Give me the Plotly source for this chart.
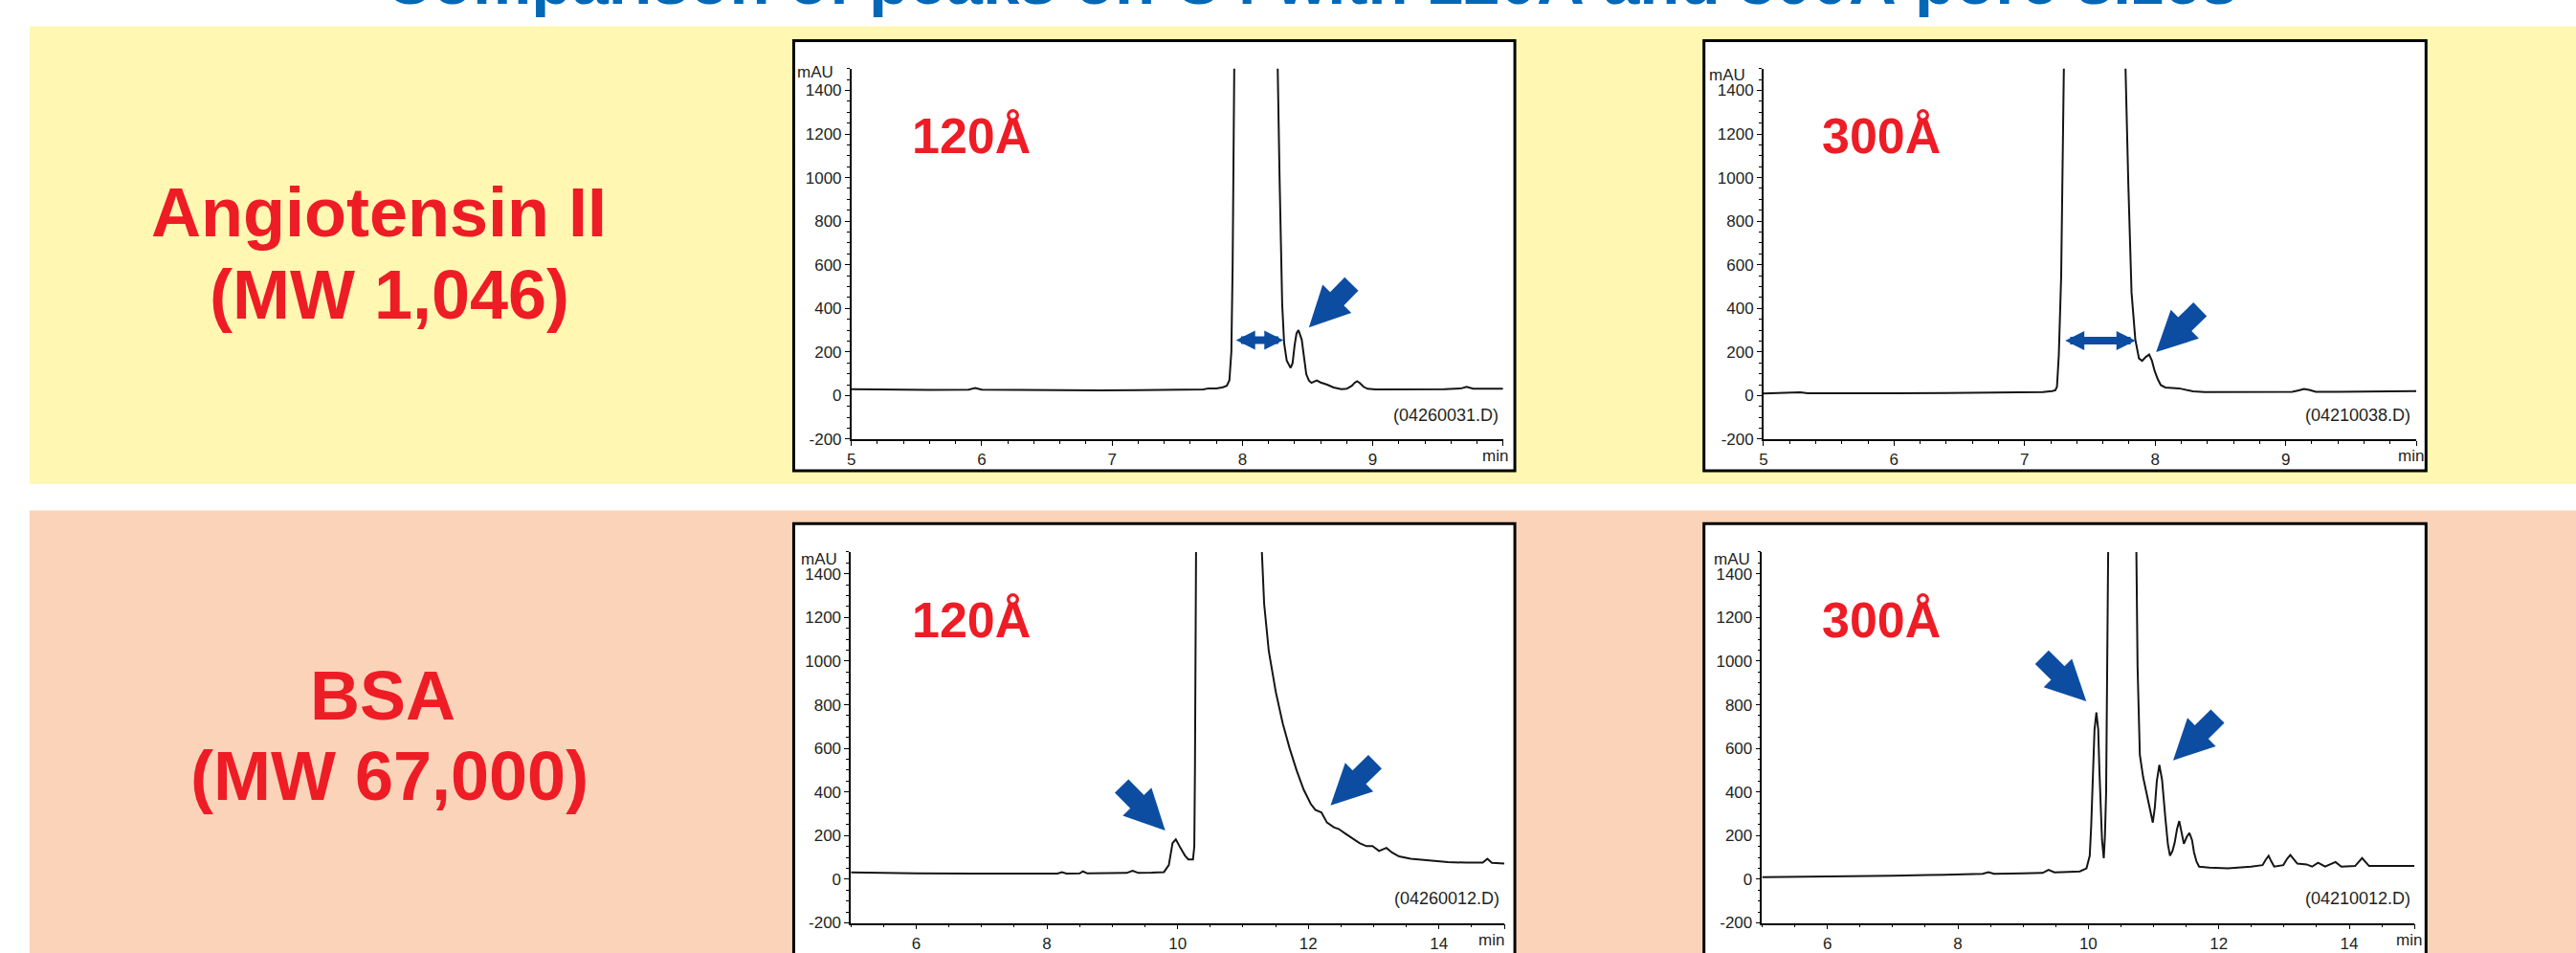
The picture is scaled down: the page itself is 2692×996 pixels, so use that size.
import plotly.graph_objects as go

W, H = 2692, 996

# ---------------- data ----------------
ang120_t = [5.00, 5.30, 5.33, 5.37, 5.60, 5.90, 5.95, 6.00, 6.30, 6.60, 6.90, 7.20, 7.50, 7.70, 7.74, 7.80,
            7.85, 7.88, 7.90, 7.915, 7.925, 7.94, 8.10, 8.265, 8.285, 8.305, 8.32, 8.34, 8.37, 8.385, 8.40,
            8.415, 8.43, 8.455, 8.474, 8.49, 8.51, 8.53, 8.57, 8.60, 8.65, 8.70, 8.76, 8.80, 8.84, 8.86,
            8.88, 8.90, 8.93, 8.96, 9.02, 9.30, 9.55, 9.68, 9.72, 9.77, 9.85, 10.00]
ang120_mau = [29, 27, 30, 27, 26, 27, 35, 27, 25, 24, 24, 25, 26, 28, 33, 33,
              38, 45, 70, 200, 600, 1700, 4000, 1700, 1000, 420, 240, 160, 127, 149, 228,
              285, 300, 257, 170, 98, 69, 58, 69, 60, 50, 37, 29, 31, 45, 58,
              66, 58, 40, 31, 28, 28, 29, 33, 40, 31, 30, 31]

ang300_t = [5.00, 5.20, 5.28, 5.34, 5.60, 6.00, 6.40, 6.80, 7.00, 7.14, 7.21, 7.235, 7.248, 7.262, 7.28,
            7.305, 7.54, 7.765, 7.794, 7.819, 7.848, 7.876, 7.90, 7.93, 7.954, 7.975, 7.996, 8.02, 8.043,
            8.078, 8.184, 8.24, 8.29, 8.38, 8.60, 8.90, 9.05, 9.10, 9.14, 9.18, 9.23, 9.40, 9.70, 10.00]
ang300_mau = [9, 11, 15, 11, 10, 11, 12, 13, 14, 16, 20, 24, 40, 185, 545,
              1700, 4000, 1700, 979, 473, 257, 170, 159, 178, 188, 160, 113, 75, 48,
              37, 33, 25, 19, 16, 16, 16, 17, 24, 30, 26, 17, 17, 19, 20]

bsa120_t = [5.00, 5.50, 6.00, 7.00, 8.00, 8.16, 8.23, 8.30, 8.50, 8.55, 8.62, 8.80, 9.10, 9.22, 9.31, 9.40,
            9.60, 9.79, 9.865, 9.90, 9.922, 9.972, 10.00, 10.043, 10.08, 10.114, 10.164, 10.235, 10.255,
            10.265, 10.285, 10.75, 11.26, 11.324, 11.395, 11.502, 11.609, 11.715, 11.822, 11.929, 12.036,
            12.107, 12.20, 12.285, 12.391, 12.463, 12.57, 12.676, 12.783, 12.89, 12.982, 13.082, 13.196,
            13.28, 13.388, 13.566, 13.85, 14.135, 14.42, 14.67, 14.74, 14.81, 15.00]
bsa120_mau = [32, 29, 27, 26, 26, 26, 32, 26, 27, 36, 27, 27, 28, 29, 39, 29,
              30, 33, 65, 130, 166, 183, 170, 144, 125, 108, 91, 91, 150,
              500, 1700, 4000, 1700, 1263, 1046, 859, 714, 599, 498, 411, 346,
              318, 307, 260, 238, 231, 209, 188, 166, 152, 152, 130, 144,
              123, 105, 94, 87, 79, 76, 76, 94, 75, 72]

bsa300_t = [5.00, 5.50, 6.10, 7.00, 7.53, 8.00, 8.38, 8.47, 8.555, 9.00, 9.30, 9.39, 9.48, 9.70, 9.87,
            9.972, 10.022, 10.045, 10.065, 10.095, 10.124, 10.152, 10.17, 10.188, 10.21, 10.237, 10.255,
            10.273, 10.294, 10.31, 10.52, 10.73, 10.755, 10.79, 10.84, 10.918, 10.989, 11.02, 11.05,
            11.089, 11.131, 11.181, 11.22, 11.252, 11.29, 11.323, 11.36, 11.394, 11.43, 11.465, 11.51,
            11.55, 11.59, 11.621, 11.66, 11.699, 11.855, 12.139, 12.494, 12.671, 12.72, 12.764, 12.80,
            12.849, 12.99, 13.05, 13.097, 13.15, 13.204, 13.346, 13.43, 13.522, 13.63, 13.79, 13.878,
            14.09, 14.197, 14.304, 14.60, 15.00]
bsa300_mau = [10, 11, 13, 16, 19, 22, 25, 33, 25, 27, 29, 43, 32, 34, 36,
              50, 108, 250, 397, 686, 765, 686, 500, 325, 180, 97, 200,
              397, 974, 1700, 4000, 1700, 974, 570, 469, 354, 260, 330, 450,
              524, 455, 281, 160, 108, 130, 166, 230, 267, 210, 163, 195,
              212, 180, 123, 80, 58, 53, 50, 58, 65, 90, 108, 85,
              58, 65, 95, 111, 90, 72, 68, 58, 76, 58, 79, 58,
              61, 97, 61, 61, 61]

# tick labels
top_x_tickvals = [5, 6, 7, 8, 9, 10]
top_x_ticktext = ["5", "6", "7", "8", "9", ""]
bot_x_tickvals = [6, 8, 10, 12, 14, 15]
bot_x_ticktext = ["6", "8", "10", "12", "14", ""]
y_tickvals = [-200, 0, 200, 400, 600, 800, 1000, 1200, 1400]
y_ticktext = ["-200", "0", "200", "400", "600", "800", "1000", "1200", "1400"]
x_unit = "min"
y_unit = "mAU"

title_text = "Comparison of peaks on C4 with 120Å and 300Å pore sizes"
row_labels = [["Angiotensin II", "(MW 1,046)"], ["BSA", "(MW 67,000)"]]
pore_labels = ["120Å", "300Å", "120Å", "300Å"]
file_ids = ["(04260031.D)", "(04210038.D)", "(04260012.D)", "(04210012.D)"]

# ---------------- helpers ----------------
def fx(p):
    return p / W


def fy(p):
    return 1 - p / H


FONT = "Liberation Sans, Arial, Helvetica, sans-serif"
RED = "#EE1C25"
BLUE_ARROW = "#0C4DA2"
TXT = "#231f20"
tick_font = dict(family=FONT, size=17, color=TXT)

fig = go.Figure()

series = [
    (ang120_t, ang120_mau, "x", "y"),
    (ang300_t, ang300_mau, "x2", "y2"),
    (bsa120_t, bsa120_mau, "x3", "y3"),
    (bsa300_t, bsa300_mau, "x4", "y4"),
]
for t, m, xa, ya in series:
    fig.add_trace(go.Scatter(x=t, y=m, mode="lines", line=dict(color="#151515", width=2),
                             xaxis=xa, yaxis=ya, hoverinfo="skip", showlegend=False))


def xaxis(domain, anchor, rng, tv, tt, mdt):
    return dict(domain=domain, anchor=anchor, range=rng, tickmode="array", tickvals=tv, ticktext=tt,
                ticks="outside", ticklen=5, tickwidth=1.4, tickcolor="black",
                minor=dict(tickmode="linear", tick0=rng[0], dtick=mdt, ticks="outside", ticklen=3,
                           tickwidth=1.1, tickcolor="black", showgrid=False),
                showline=True, linecolor="black", linewidth=1.6, showgrid=False, zeroline=False,
                tickfont=tick_font, fixedrange=True)


def yaxis(domain, anchor):
    return dict(domain=domain, anchor=anchor, range=[-200, 1500], tickmode="array",
                tickvals=y_tickvals, ticktext=y_ticktext,
                ticks="outside", ticklen=5, tickwidth=1.4, tickcolor="black",
                minor=dict(tickmode="linear", tick0=-200, dtick=50, ticks="outside", ticklen=3,
                           tickwidth=1.1, tickcolor="black", showgrid=False),
                showline=True, linecolor="black", linewidth=1.6, showgrid=False, zeroline=False,
                tickfont=tick_font, fixedrange=True)


top_y = [fy(465.5), fy(72.7)]
bot_y = [fy(978.3), fy(585.2)]
axes_geom = {
    "x": (xaxis([fx(886.4), fx(1568.7)], "y", [5, 10], top_x_tickvals, top_x_ticktext, 0.2), yaxis(top_y, "x")),
    "x2": (xaxis([fx(1841.3), fx(2524.8)], "y2", [5, 10], top_x_tickvals, top_x_ticktext, 0.2), yaxis(top_y, "x2")),
    "x3": (xaxis([fx(885.9), fx(1570.0)], "y3", [5, 15], bot_x_tickvals, bot_x_ticktext, 0.5), yaxis(bot_y, "x3")),
    "x4": (xaxis([fx(1839.9), fx(2522.9)], "y4", [5, 15], bot_x_tickvals, bot_x_ticktext, 0.5), yaxis(bot_y, "x4")),
}

layout_axes = {}
for key, (xa, ya) in axes_geom.items():
    n = key[1:]
    layout_axes["xaxis" + n] = xa
    layout_axes["yaxis" + n] = ya

# ---------------- background shapes ----------------
shapes = [
    dict(type="rect", xref="paper", yref="paper", x0=fx(26), x1=1.01, y0=fy(513), y1=fy(28),
         fillcolor="#FFF7B2", line=dict(width=0), layer="below"),
    dict(type="rect", xref="paper", yref="paper", x0=fx(26), x1=1.01, y0=-0.02, y1=fy(541),
         fillcolor="#FAD3B9", line=dict(width=0), layer="below"),
]
panel_boxes = [(826, 1581, 43, 499), (1779, 2535, 43, 499), (826, 1581, 555, 1040), (1779, 2535, 555, 1040)]
for x0, x1, y0, y1 in panel_boxes:
    shapes.append(dict(type="rect", xref="paper", yref="paper", x0=fx(x0), x1=fx(x1), y0=fy(y1), y1=fy(y0),
                       fillcolor="white", line=dict(color="black", width=3), layer="below"))

# ---------------- text annotations ----------------
ann = []
ann.append(dict(text=title_text, xref="paper", yref="paper", x=fx(1368), y=fy(21.5), xanchor="center",
                yanchor="bottom", showarrow=False,
                font=dict(family=FONT, size=69, color="#0068B7", weight="bold")))

row_pos = [((392, 225), (403, 312)), ((396, 737), (403, 823))]
for lines, poss in zip(row_labels, row_pos):
    for txt, (cx, cy) in zip(lines, poss):
        ann.append(dict(text=txt, xref="paper", yref="paper", x=fx(cx), y=fy(cy), xanchor="center",
                        yanchor="middle", showarrow=False,
                        font=dict(family=FONT, size=72, color=RED, weight="bold")))

pore_pos = [(1011.5, 144), (1964.4, 144), (1011.5, 657), (1964.4, 657)]
for txt, (cx, cy) in zip(pore_labels, pore_pos):
    ann.append(dict(text=txt, xref="paper", yref="paper", x=fx(cx), y=fy(cy), xanchor="center",
                    yanchor="middle", showarrow=False,
                    font=dict(family=FONT, size=52, color=RED, weight="bold")))

fid_pos = [(1566, 440), (2520.4, 440), (1566.5, 952), (2520.4, 952)]
for txt, (rx, cy) in zip(file_ids, fid_pos):
    ann.append(dict(text=txt, xref="paper", yref="paper", x=fx(rx), y=fy(cy), xanchor="right",
                    yanchor="middle", showarrow=False, font=dict(family=FONT, size=18, color=TXT)))

mau_pos = [(848.5, 77), (1803, 80), (853, 593), (1808, 593)]
for cx, cy in mau_pos:
    ann.append(dict(text=y_unit, xref="paper", yref="paper", x=fx(cx), y=fy(cy), xanchor="center",
                    yanchor="middle", showarrow=False, font=dict(family=FONT, size=17, color=TXT)))

min_pos = [(1560, 483), (2519, 483), (1556, 996), (2517, 996)]
for cx, cy in min_pos:
    ann.append(dict(text=x_unit, xref="paper", yref="paper", x=fx(cx), y=fy(cy), xanchor="center",
                    yanchor="middle", showarrow=False, font=dict(family=FONT, size=17, color=TXT)))

# ---------------- arrows ----------------
# diagonal arrows: (x-axis, y-axis, tip time, tip mAU, pixel offset of tail)
diag_arrows = [
    ("x", "y", 8.51, 312, 46, -47),
    ("x2", "y2", 8.007, 199, 47.5, -46.3),
    ("x3", "y3", 9.81, 224, -47, -48),
    ("x3", "y3", 12.34, 339, 48, -47),
    ("x4", "y4", 9.97, 816, -48, -47.5),
    ("x4", "y4", 11.30, 545, 48, -47.7),
]
for xr, yr, tx, ty, ox, oy in diag_arrows:
    # shaft
    ann.append(dict(text="", xref=xr, yref=yr, x=tx, y=ty, ax=ox, ay=oy, showarrow=True,
                    arrowhead=0, arrowwidth=20, arrowcolor=BLUE_ARROW, standoff=33))
    # head
    ann.append(dict(text="", xref=xr, yref=yr, x=tx, y=ty, ax=ox * 0.6, ay=oy * 0.6, showarrow=True,
                    arrowhead=2, arrowwidth=4, arrowsize=2.1, arrowcolor=BLUE_ARROW, standoff=0))

# double-headed arrows: (axes, left time, right time, mAU level)
double_arrows = [("x", "y", 7.94, 8.315, 254), ("x2", "y2", 7.30, 7.85, 252)]
for xr, yr, t0, t1, lvl in double_arrows:
    ann.append(dict(text="", xref=xr, yref=yr, x=t1, y=lvl, axref=xr, ayref=yr, ax=t0, ay=lvl,
                    showarrow=True, arrowside="end+start", arrowhead=2, startarrowhead=2,
                    arrowwidth=8, arrowsize=0.5, startarrowsize=0.5, arrowcolor=BLUE_ARROW))

fig.update_layout(
    width=W, height=H, margin=dict(l=0, r=0, t=0, b=0, pad=0),
    paper_bgcolor="white", plot_bgcolor="rgba(0,0,0,0)",
    shapes=shapes, annotations=ann, showlegend=False,
    font=dict(family=FONT),
    **layout_axes,
)

fig.write_html("out.html", config={"displayModeBar": False})
